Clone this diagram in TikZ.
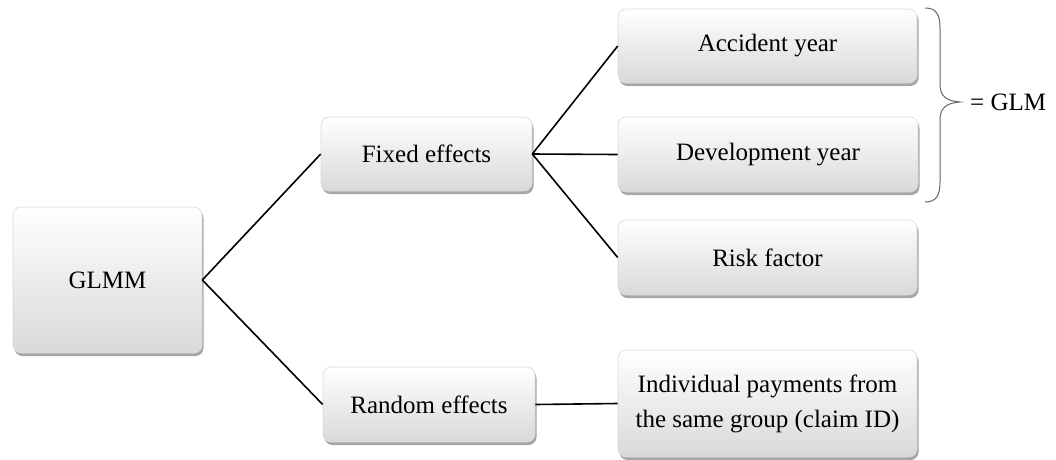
\documentclass[tikz,border=0pt]{standalone}
\usepackage{fontspec}
\setmainfont{Liberation Serif}
\usetikzlibrary{shadows}
\begin{document}
\begin{tikzpicture}[x=1pt,y=-1pt,
  box/.style={rectangle, rounded corners=8pt, draw=gray!30, line width=0.6pt,
    top color=white, middle color=white, bottom color=black!15,
    drop shadow={shadow xshift=1.5pt, shadow yshift=-3pt, opacity=0.35, fill=black},
    font=\fontsize{25}{35}\selectfont, inner sep=0pt, align=center},
  link/.style={line width=1.6pt, black}]
\useasboundingbox (0,0) rectangle (1056,459);
\node[box, minimum width=189pt, minimum height=146pt] (glmm) at (107.5,280) {GLMM};
\node[box, minimum width=211pt, minimum height=74pt] (fixed) at (426.5,154) {Fixed effects};
\node[box, minimum width=212pt, minimum height=75pt] (random) at (429,404.5) {Random effects};
\node[box, minimum width=299pt, minimum height=74pt] (acc) at (767.5,46) {Accident year};
\node[box, minimum width=300pt, minimum height=75pt] (dev) at (768,154.5) {Development year};
\node[box, minimum width=299pt, minimum height=75pt] (risk) at (767.5,257.5) {Risk factor};
\node[box, minimum width=299pt, minimum height=107pt] (ind) at (767.5,403.5) {Individual payments from\\the same group (claim ID)};
\draw[link] (glmm.east) -- (fixed.west);
\draw[link] (glmm.east) -- (random.west);
\draw[link] (fixed.east) -- (acc.west);
\draw[link] (fixed.east) -- (dev.west);
\draw[link] (fixed.east) -- (risk.west);
\draw[link] (random.east) -- (ind.west);
\draw[gray!80!black, line width=1pt]
  (925,8) .. controls (936,8) and (940,14) .. (940,28) -- (940,84)
  .. controls (940,96) and (946,101) .. (960,102)
  .. controls (946,103) and (940,108) .. (940,120) -- (940,182)
  .. controls (940,196) and (936,202) .. (925,202);
\node[anchor=west, font=\fontsize{25}{30}\selectfont, inner sep=0pt] (glm) at (970,102) {= GLM};
\end{tikzpicture}
\end{document}
